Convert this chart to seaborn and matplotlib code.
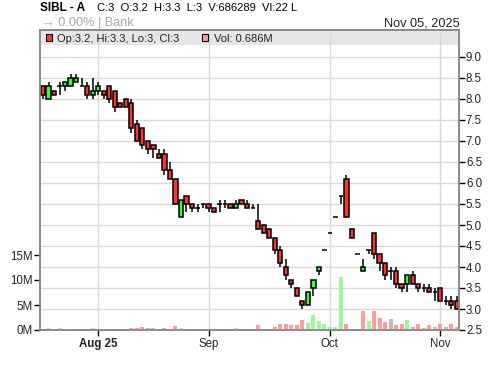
import numpy as np
import pandas as pd
import matplotlib
matplotlib.use("Agg")
import matplotlib.pyplot as plt
import seaborn as sns
from matplotlib.patches import Rectangle

# ---- data ----
opens = [8.3, 8.0, 8.2, 8.3, 8.3, 8.3, 8.4, 8.3, 8.3, 8.1,
         8.2, 8.2, 8.3, 8.2, 7.9, 8.0, 7.9, 7.4, 7.3, 7.0,
         6.9, 6.7, 6.7, 6.3, 6.1, 5.2, 5.7, 5.5, 5.4, 5.5,
         5.5, 5.4, 5.5, 5.5, 5.5, 5.4, 5.6, 5.5, 5.4, 5.1,
         5.0, 4.9, 4.7, 4.4, 4.0, 3.7, 3.5, 3.2, 3.1, 3.5,
         3.9, 4.4, 4.8, 5.2, 5.7, 6.1, 4.9, 4.3, 3.9, 4.4,
         4.8, 4.3, 4.1, 3.9, 3.9, 3.6, 3.6, 3.8, 3.6, 3.5,
         3.5, 3.4, 3.5, 3.2, 3.2, 3.2]
highs = [8.3, 8.4, 8.2, 8.4, 8.4, 8.6, 8.6, 8.5, 8.4, 8.5,
         8.4, 8.2, 8.3, 8.2, 7.9, 8.0, 8.0, 7.5, 7.3, 7.0,
         6.9, 6.8, 6.8, 6.5, 6.1, 5.6, 5.7, 5.5, 5.5, 5.5,
         5.5, 5.4, 5.6, 5.6, 5.5, 5.6, 5.6, 5.6, 5.5, 5.5,
         5.0, 4.9, 4.7, 4.5, 4.2, 3.7, 3.5, 3.2, 3.4, 3.7,
         4.0, 4.4, 4.8, 5.2, 5.7, 6.2, 4.9, 4.3, 4.2, 4.4,
         4.8, 4.3, 4.1, 4.0, 4.0, 3.6, 3.8, 3.9, 3.6, 3.6,
         3.6, 3.5, 3.5, 3.3, 3.3, 3.3]
lows = [8.0, 8.0, 8.1, 8.1, 8.2, 8.3, 8.4, 8.3, 8.0, 8.0,
        8.1, 8.0, 7.9, 7.7, 7.8, 7.8, 7.2, 7.0, 6.8, 6.7,
        6.6, 6.6, 6.2, 6.1, 5.5, 5.2, 5.3, 5.3, 5.3, 5.4,
        5.3, 5.3, 5.3, 5.4, 5.4, 5.4, 5.5, 5.4, 5.4, 4.9,
        4.8, 4.7, 4.3, 4.0, 3.7, 3.5, 3.3, 3.0, 3.1, 3.3,
        3.8, 4.4, 4.8, 5.2, 5.5, 5.2, 4.7, 4.3, 3.9, 4.3,
        4.2, 3.9, 3.7, 3.7, 3.5, 3.4, 3.4, 3.6, 3.4, 3.4,
        3.4, 3.2, 3.2, 3.1, 3.0, 3.0]
closes = [8.1, 8.3, 8.1, 8.3, 8.4, 8.5, 8.5, 8.3, 8.1, 8.2,
          8.3, 8.1, 8.0, 7.8, 7.8, 7.8, 7.3, 7.0, 6.9, 6.8,
          6.8, 6.6, 6.3, 6.1, 5.5, 5.6, 5.5, 5.4, 5.4, 5.5,
          5.4, 5.3, 5.5, 5.5, 5.4, 5.5, 5.5, 5.4, 5.4, 4.9,
          4.8, 4.7, 4.4, 4.1, 3.8, 3.6, 3.3, 3.1, 3.4, 3.7,
          4.0, 4.4, 4.8, 5.2, 5.7, 5.2, 4.7, 4.3, 4.0, 4.4,
          4.3, 4.1, 3.8, 3.9, 3.6, 3.5, 3.8, 3.6, 3.5, 3.5,
          3.4, 3.4, 3.2, 3.2, 3.1, 3.0]
volumes_m = [0.05, 0.4, 0.2, 0.4, 0.2, 0.2, 0.2, 0.2, 0.2, 0.4,
             0.2, 0.2, 0.2, 0.05, 0.05, 0.05, 0.4, 0.4, 0.6, 0.4,
             0.4, 0.2, 0.4, 0.2, 0.8, 0.4, 0.2, 0.2, 0.2, 0.2,
             0.05, 0.2, 0.2, 0.05, 0.2, 0.4, 0.2, 0.2, 0.2, 1.0,
             0.2, 0.2, 0.6, 1.2, 1.2, 1.0, 1.0, 2.0, 1.4, 3.0,
             1.8, 1.2, 0.6, 0.6, 10.6, 1.2, 0.2, 0.05, 3.8, 1.8,
             3.9, 2.5, 1.7, 2.3, 1.0, 1.2, 2.1, 0.6, 1.2, 0.4,
             1.0, 0.6, 1.2, 0.6, 1.2, 0.686]
vol_dir = ["down", "up", "down", "up", "up", "up", "flat", "down", "down", "up",
           "down", "down", "down", "down", "down", "down", "down", "down", "down", "down",
           "flat", "down", "down", "down", "down", "up", "down", "down", "flat", "flat",
           "down", "down", "up", "flat", "down", "up", "flat", "down", "flat", "down",
           "down", "down", "down", "down", "down", "down", "down", "down", "up", "up",
           "up", "up", "up", "up", "up", "down", "down", "down", "down", "up",
           "down", "down", "down", "flat", "down", "down", "up", "down", "down", "flat",
           "down", "flat", "down", "flat", "down", "down"]
month_ticks = [10, 30, 52, 72]
month_labels = ["Aug 25", "Sep", "Oct", "Nov"]
price_ticks = [2.5, 3.0, 3.5, 4.0, 4.5, 5.0, 5.5, 6.0, 6.5, 7.0, 7.5, 8.0, 8.5, 9.0]
vol_ticks = [0, 5, 10, 15]
vol_tick_labels = ["0M", "5M", "10M", "15M"]

# ---- style ----
sns.set_theme(style="white")
plt.rcParams['font.family'] = ['Liberation Sans', 'DejaVu Sans']

W, H = 500, 366
fig = plt.figure(figsize=(W / 100, H / 100), dpi=100)
fig.patch.set_facecolor("white")


def fx(x):
    return x / W


def fy(y):
    return 1 - y / H


ax = fig.add_axes([fx(40), fy(330), (459 - 40) / W, 300 / H])
ax2 = ax.twinx()
ax.set_zorder(ax2.get_zorder() + 1)
ax.patch.set_visible(False)
ax2.patch.set_visible(True)
ax2.patch.set_facecolor("white")

n = len(closes)
idx = np.arange(n)

# ---- volume (left axis) ----
vol_df = pd.DataFrame({"idx": idx, "vol": volumes_m, "dir": vol_dir})
vol_pal = {"up": "#99f999", "down": "#ff9c9c", "flat": "#bdbdbd"}
sns.barplot(data=vol_df, x="idx", y="vol", hue="dir", palette=vol_pal,
            native_scale=True, dodge=False, width=0.72, legend=False,
            errorbar=None, saturation=1, linewidth=0, ax=ax)
ax.set_ylim(0, 60)
ax.set_yticks(vol_ticks)
ax.set_yticklabels(vol_tick_labels)
ax.set_ylabel("")
ax.set_xlabel("")

# ---- price (right axis) ----
O = np.array(opens)
C = np.array(closes)
Hh = np.array(highs)
L = np.array(lows)
body_colors = np.where(C > O, "#33ff33", "#ff3333")
ax2.vlines(idx, L, Hh, colors="black", linewidth=1.1, zorder=2)
ax2.bar(idx, C - O, bottom=O, width=0.78, color=body_colors,
        edgecolor="black", linewidth=1.1, zorder=3)
ax2.set_ylim(2.5, 2.5 + 300 / 42)
ax2.set_yticks(price_ticks)
ax2.set_yticklabels([f"{t:.1f}" for t in price_ticks])
ax2.grid(axis="y", color="#d9d9d9", linewidth=1)
ax2.set_axisbelow(True)
for t in month_ticks:
    ax2.axvline(t, color="#d9d9d9", linewidth=1, zorder=0.5)
ax2.add_patch(Rectangle((0, 0.95), 1, 0.05, transform=ax2.transAxes,
                        facecolor="#e6e6e6", edgecolor="none", zorder=0.2))

ax.set_xlim(-0.55, 75.4)
ax.set_xticks(month_ticks)
ax.set_xticklabels(month_labels)
ax.get_xticklabels()[0].set_fontweight("bold")

for a in (ax, ax2):
    for s in a.spines.values():
        s.set_color("#8a8a8a")
        s.set_linewidth(1.2)
ax.tick_params(axis="y", left=True, length=4, width=1, color="black",
               labelsize=8.3, pad=1, labelcolor="#222222")
ax.tick_params(axis="x", bottom=True, length=4, width=1, color="black",
               labelsize=8.3, pad=2, labelcolor="#222222")
ax2.tick_params(axis="y", right=True, length=4, width=1, color="black",
                labelsize=8.3, pad=1, labelcolor="#222222")

# ---- header texts ----
fig.text(fx(40), fy(11), "SIBL - A", fontsize=8.5, fontweight="bold",
         color="black", va="baseline", ha="left")
fig.text(fx(97), fy(11), "C:3  O:3.2  H:3.3  L:3  V:686289  VI:22 L",
         fontsize=8, color="black", va="baseline", ha="left")
fig.text(fx(42), fy(26), "\u2192 0.00% | Bank", fontsize=9.2, color="#a8a8a8",
         va="baseline", ha="left")
fig.text(fx(460), fy(26), "Nov 05, 2025", fontsize=9.2, color="#222222",
         va="baseline", ha="right")

# legend row
fig.patches.append(Rectangle((fx(46), fy(41)), 6 / W, 7 / H, transform=fig.transFigure,
                             facecolor="#ff3333", edgecolor="black", linewidth=0.8))
fig.text(fx(57), fy(42), "Op:3.2, Hi:3.3, Lo:3, Cl:3", fontsize=8,
         color="#222222", va="baseline", ha="left")
fig.patches.append(Rectangle((fx(202), fy(41)), 6 / W, 7 / H, transform=fig.transFigure,
                             facecolor="#ff9c9c", edgecolor="black", linewidth=0.8))
fig.text(fx(214), fy(42), "Vol: 0.686M", fontsize=8,
         color="#222222", va="baseline", ha="left")

fig.savefig("out.png", dpi=100, facecolor="white")
